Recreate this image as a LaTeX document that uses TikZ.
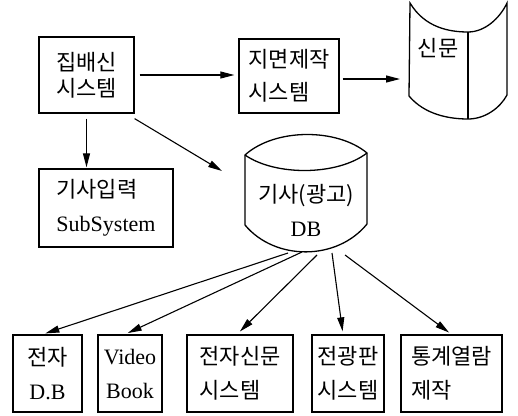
\documentclass[tikz,border=0pt]{standalone}
\usepackage{fontspec}
\setmainfont{Liberation Serif}
\newfontfamily\kr{Noto Sans CJK KR}
\usetikzlibrary{arrows.meta}

\begin{document}
\begin{tikzpicture}[x=1pt,y=-1pt,
  box/.style={draw, line width=1.3pt, inner sep=0pt, align=center,
    font=\fontsize{22}{34}\selectfont},
  arr/.style={line width=1.1pt, -{Triangle[length=14pt,width=7pt]}}]
\useasboundingbox (0,0) rectangle (518,415);

% upper row
\node[box, minimum width=95, minimum height=76]
  (jbs) at (86.5,75) {\kr 집배신\\[-8pt]\kr 시스템};
\node[box, align=left, minimum width=100, minimum height=74]
  (jms) at (289,76) {\kr 지면제작\\[-1pt]\kr 시스템};
\node[box, align=left, minimum width=134, minimum height=78]
  (sub) at (106,208) {\kr 기사입력\\SubSystem};

% newspaper
\draw[line width=1.3pt] (410,3) .. controls (425,28) and (450,32) .. (468,32)
  .. controls (485,32) and (500,18) .. (507,3) -- (507,95)
  .. controls (500,108) and (485,119) .. (468,119)
  .. controls (450,119) and (425,115) .. (409,96) -- cycle;
\draw[line width=1.3pt] (468,32) -- (468,119);
\node[font=\fontsize{22}{34}\selectfont] (paper) at (438,48) {\kr 신문};
\coordinate (paperin) at (400,79);

% database
\draw[line width=1.3pt] (245,155) .. controls (275,128) and (337,128) .. (367,153)
  -- (367,224) .. controls (337,261) and (275,261) .. (245,225) -- cycle;
\draw[line width=1.3pt] (245,155) .. controls (275,176) and (337,176) .. (367,153);
\node[align=center, inner sep=0pt, font=\fontsize{22}{34}\selectfont]
  (db) at (306,210) {\kr 기사(광고)\\DB};
\coordinate (dbin) at (222,171);
\coordinate (dbo1) at (288,253);
\coordinate (dbo2) at (302,252);
\coordinate (dbo3) at (317,255);
\coordinate (dbo4) at (332,253);
\coordinate (dbo5) at (345,255);

% lower row
\node[box, minimum width=69, minimum height=77] (edb) at (47.5,373.5) {\kr 전자\\D.B};
\node[box, minimum width=64, minimum height=77] (vbook) at (130,373.5) {Video\\Book};
\node[box, align=left, minimum width=106, minimum height=77] (enews) at (240,373.5) {\kr 전자신문\\\kr 시스템};
\node[box, minimum width=72, minimum height=77] (board) at (348,373.5) {\kr 전광판\\\kr 시스템};
\node[box, align=left, minimum width=101, minimum height=77] (stat) at (451.5,373.5) {\kr 통계열람\\\kr 제작};

% draw the arrows
\draw[arr, shorten <=5pt, shorten >=4pt] (jbs.east) -- (jbs.east -| jms.west);
\draw[arr, shorten <=3pt] (jms.east |- paperin) -- (paperin);
\draw[arr, shorten <=5pt, shorten >=1pt] (jbs.south) -- (jbs.south |- sub.north);
\draw[arr] ([yshift=-5pt]jbs.south east) -- (dbin);
\draw[arr, shorten >=3pt] (dbo1) -- ([xshift=-5pt]edb.north);
\draw[arr, shorten >=3pt] (dbo2) -- ([xshift=-5pt]vbook.north);
\draw[arr, shorten >=4pt] (dbo3) -- ([xshift=-3pt]enews.north);
\draw[arr, shorten >=3pt] (dbo4) -- ([xshift=-5pt]board.north);
\draw[arr, shorten >=3pt] (dbo5) -- (stat.north);

\end{tikzpicture}
\end{document}
